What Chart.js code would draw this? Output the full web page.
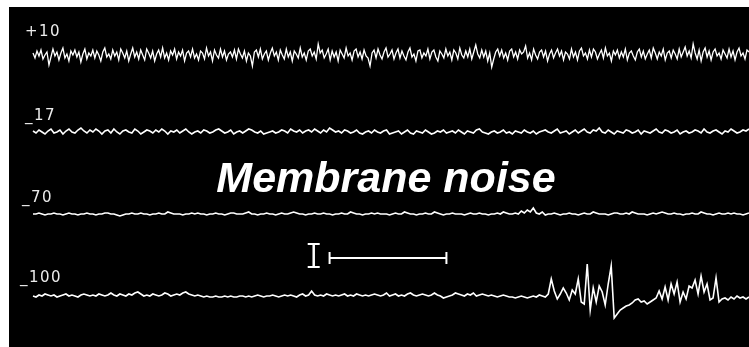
<!DOCTYPE html>
<html>
<head>
<meta charset="utf-8">
<script src="https://cdn.jsdelivr.net/npm/chart.js@4/dist/chart.umd.min.js"></script>
<style>
  html, body { margin: 0; padding: 0; background: #fff; width: 749px; height: 347px; overflow: hidden; }
  #panel { position: absolute; left: 9px; top: 7px; width: 740px; height: 340px; background: #000; }
  #chart { position: absolute; left: 0; top: 0; }
  .lbl { position: absolute; color: #ececec; font: 15px "DejaVu Sans", sans-serif; letter-spacing: 1.5px; line-height: 15px; white-space: nowrap; }
  #title { position: absolute; left: 377px; top: 149px; transform: translateX(-50%); color: #fff;
           font: italic bold 43px "Liberation Sans", Arial, sans-serif; line-height: 43px; white-space: nowrap; }
</style>
</head>
<body>
<div id="panel">
  <canvas id="chart" width="740" height="340"></canvas>
  <div id="title">Membrane noise</div>
</div>
<script>
// Holding potentials (mV) labelling each trace
const traceLabels = ['+10', '_17', '_70', '_100'];

// Current noise at +10 mV (deviation from the trace baseline), sampled 1.5x faster
const traceP10 = [
  2,-3,4,-1,5,-4,0,3,-10,-2,6,-1,3,-5,2,7,-3,1,-6,4,
  0,5,-2,3,-7,1,6,-4,2,-1,5,-3,4,0,-6,3,7,-2,1,-4,
  5,-1,3,-5,6,2,-3,4,-6,1,7,-2,3,-4,5,0,-5,6,2,-3,
  4,-6,1,5,-2,7,-3,2,-5,4,0,6,-4,3,-1,5,-6,2,4,-2,
  6,-3,1,-5,4,2,-4,7,-1,3,-6,5,0,-3,6,-2,4,-5,1,3,
  -2,5,-4,6,1,-3,4,-6,2,-1,-11,3,5,-2,6,-4,1,4,-5,2,
  7,-1,3,-5,5,0,-4,6,-2,3,-6,4,1,-3,7,-2,2,-5,4,6,
  -1,3,-4,11,2,5,-3,1,6,-5,4,-2,3,-6,5,1,-3,7,-1,2,
  -5,4,6,-2,3,-4,5,-1,-3,-11,2,5,-3,6,0,-4,3,7,-2,1,
  5,-4,2,6,-3,4,-1,-5,3,7,-2,1,-6,4,5,-3,2,-1,6,-4,
  3,5,-2,-6,4,1,-3,6,-1,3,-5,5,2,-4,7,0,-3,4,-2,6,
  -4,3,10,1,-3,5,-2,4,-6,2,-12,-4,3,6,-1,5,-3,2,-5,4,
  6,-2,3,-4,5,1,3,9,-3,2,-5,6,0,-4,3,5,-2,4,-6,1,
  5,-3,2,6,-1,4,-5,3,1,-4,6,-2,3,-5,4,7,-1,2,-4,5,
  -2,6,3,-4,1,5,-3,7,-1,2,-6,4,0,5,-3,3,-2,6,-5,2,
  4,-1,-5,3,6,-2,4,-4,1,5,-3,7,2,-4,3,-1,6,-5,2,4,
  -3,5,1,-4,6,-2,3,8,-1,4,-3,11,2,-4,5,-6,3,7,-2,4,
  -5,3,6,-1,2,-4,5,1,-3,6,-2,4,-5,3,7,-1,2,-4,5,3
];

// Current noise at -17 mV
const traceM17 = [
  1,-1,2,0,-2,1,3,-1,0,2,-2,1,3,0,-1,2,4,1,-1,2,
  0,3,1,-2,1,2,-1,3,0,-2,1,2,0,-1,3,1,-2,0,2,1,
  -1,2,0,3,1,-2,1,0,2,-1,1,3,0,-2,0,1,-1,2,1,-1,
  0,2,3,1,-1,0,2,-2,0,1,-1,1,3,2,0,-1,1,-2,-1,0,
  1,-1,0,2,1,-1,3,1,0,2,-1,1,2,0,3,1,-1,2,0,4,
  2,0,1,-1,2,1,-1,0,2,-1,-2,0,1,-1,2,0,-1,1,2,-2,
  -1,0,1,-2,0,2,-1,-2,1,0,-1,2,0,-2,-1,1,0,2,-1,0,
  1,-1,2,0,-2,1,0,-1,2,3,0,-1,-2,0,1,-1,0,2,-1,0,
  -2,1,0,-1,2,0,-1,1,-2,0,1,2,0,-1,1,3,-1,0,1,-2,
  0,2,-1,1,3,0,-1,2,1,4,0,-1,2,0,-2,1,0,-1,2,1,
  -1,0,2,-2,1,0,-1,1,3,0,-1,2,1,-1,0,2,-2,0,1,-1,
  0,2,1,-1,3,0,-1,1,2,0,-2,1,0,3,1,-1,0,2,1,3
];

// Current noise at -70 mV
const traceM70 = [
  0,0,1,0,-1,0,0,1,0,0,-1,0,1,0,0,-1,0,0,1,0,
  0,-1,0,0,1,1,0,0,-1,-2,-1,0,0,1,0,0,1,0,0,-1,
  0,0,1,0,0,2,1,0,0,0,-1,0,0,1,0,1,0,0,-1,0,
  0,1,0,0,-1,0,1,1,0,0,0,1,2,0,0,-1,0,0,1,0,
  0,-1,0,1,0,0,1,2,1,0,0,-1,0,0,1,0,0,1,0,0,
  -1,0,0,1,0,0,2,1,0,0,-1,0,0,1,0,1,0,0,0,-1,
  0,1,0,0,2,1,0,0,-1,0,0,1,0,0,2,1,0,-1,0,0,
  1,0,0,0,-1,0,1,0,0,1,0,0,-1,0,0,1,0,2,1,0,
  0,1,0,3,1,4,2,6,1,0,2,-1,0,0,1,0,-1,0,0,1,
  0,0,-1,0,1,0,0,2,1,0,0,0,-1,0,1,1,0,0,1,0,
  2,1,0,0,0,-1,0,1,0,1,2,1,0,0,1,0,0,-1,0,0,
  1,0,0,2,1,0,0,-1,0,1,0,0,1,0,1,0,0,-1,0,1
];

// Current noise at -100 mV, with the burst of channel openings late in the sweep
const traceM100 = [
  0,-1,1,0,2,1,0,1,-1,0,1,2,0,1,0,-1,1,2,1,0,
  1,0,2,1,0,1,3,1,0,2,1,0,2,1,3,4,2,0,1,0,
  2,1,0,1,3,2,0,1,2,1,3,4,2,1,0,1,0,-1,0,-1,
  -1,0,-1,-1,0,-1,0,-1,-1,0,0,-1,0,-1,0,1,0,-1,0,0,
  1,0,-1,0,1,0,1,0,-1,1,2,0,1,5,1,0,1,0,2,1,
  0,1,0,1,2,0,1,0,2,1,0,1,0,1,2,1,0,1,3,0,
  1,2,0,1,0,2,3,1,0,1,2,1,0,1,3,1,0,-2,-1,0,
  1,3,2,1,0,2,1,3,0,1,2,1,0,1,0,-1,0,1,0,-1,
  -1,-2,-1,0,-1,-2,-1,0,-1,1,0,-1,2,17,5,-3,2,8,3,-4,
  6,2,17,-6,-8,32,-14,8,-6,10,4,-9,12,30,-22,-18,-14,-12,-10,-9,
  -7,-4,-3,-6,-5,-8,-6,-4,-2,5,-3,9,-4,12,2,14,-6,4,-3,10,
  8,16,2,20,4,12,-4,-2,18,-6,-3,-2,-4,-1,-3,0,-2,-1,-3,-1
];

const traces = [traceP10, traceM17, traceM70, traceM100];

// Sweep length on the shared time axis (in slow-sample units)
const sweepEnd = traceM17.length - 1;

// Resting line of each trace, in canvas pixels from the top of the panel
const traceBaselines = [48, 125, 207, 289];
// Label anchor (left edge, text baseline) for each trace, in panel pixels
const labelAnchors = [[16, 30], [16, 114], [13, 196], [11, 276]];

// Calibration bars, in sample / plot units
const ampBar = { sample: 93.7, top: -236, bottom: -261 };
const timeBar = { from: 99, to: 138, level: -251 };

const datasets = traces.map((values, k) => {
  const step = sweepEnd / (values.length - 1);
  return {
    label: traceLabels[k],
    data: values.map((v, i) => ({ x: i * step, y: v - traceBaselines[k] })),
    borderColor: '#ffffff',
    borderWidth: k === 0 ? 1.3 : 1.6,
    pointRadius: 0,
    tension: 0,
    fill: false,
    clip: false
  };
});

// Labels as real text next to each trace
const panel = document.getElementById('panel');
traceLabels.forEach((t, k) => {
  const d = document.createElement('div');
  d.className = 'lbl';
  d.textContent = t;
  d.style.left = labelAnchors[k][0] + 'px';
  d.style.top = (labelAnchors[k][1] - 13) + 'px';
  panel.appendChild(d);
});

const calibration = {
  id: 'calibration',
  afterDatasetsDraw(chart) {
    const { ctx, scales: { x, y } } = chart;
    ctx.save();
    ctx.strokeStyle = '#ffffff';
    ctx.lineCap = 'butt';
    // amplitude bar drawn as a serifed "I"
    const ax = x.getPixelForValue(ampBar.sample);
    const at = y.getPixelForValue(ampBar.top);
    const ab = y.getPixelForValue(ampBar.bottom);
    ctx.lineWidth = 2.5;
    ctx.beginPath();
    ctx.moveTo(ax, at); ctx.lineTo(ax, ab);
    ctx.stroke();
    ctx.lineWidth = 2;
    ctx.beginPath();
    ctx.moveTo(ax - 6, at + 1); ctx.lineTo(ax + 6, at + 1);
    ctx.moveTo(ax - 6, ab - 1); ctx.lineTo(ax + 6, ab - 1);
    ctx.stroke();
    // time bar with end ticks
    const x0 = x.getPixelForValue(timeBar.from);
    const x1 = x.getPixelForValue(timeBar.to);
    const ty = y.getPixelForValue(timeBar.level);
    ctx.lineWidth = 2;
    ctx.beginPath();
    ctx.moveTo(x0, ty); ctx.lineTo(x1, ty);
    ctx.moveTo(x0, ty - 6); ctx.lineTo(x0, ty + 6);
    ctx.moveTo(x1, ty - 6); ctx.lineTo(x1, ty + 6);
    ctx.stroke();
    ctx.restore();
  }
};

new Chart(document.getElementById('chart'), {
  type: 'line',
  data: { datasets },
  options: {
    responsive: false,
    animation: false,
    devicePixelRatio: 1,
    layout: { padding: { left: 24, right: 0, top: 0, bottom: 0 } },
    plugins: { legend: { display: false }, tooltip: { enabled: false }, title: { display: false } },
    scales: {
      x: { type: 'linear', min: 0, max: sweepEnd, display: false },
      y: { type: 'linear', min: -340, max: 0, display: false }
    }
  },
  plugins: [calibration]
});
</script>
</body>
</html>
